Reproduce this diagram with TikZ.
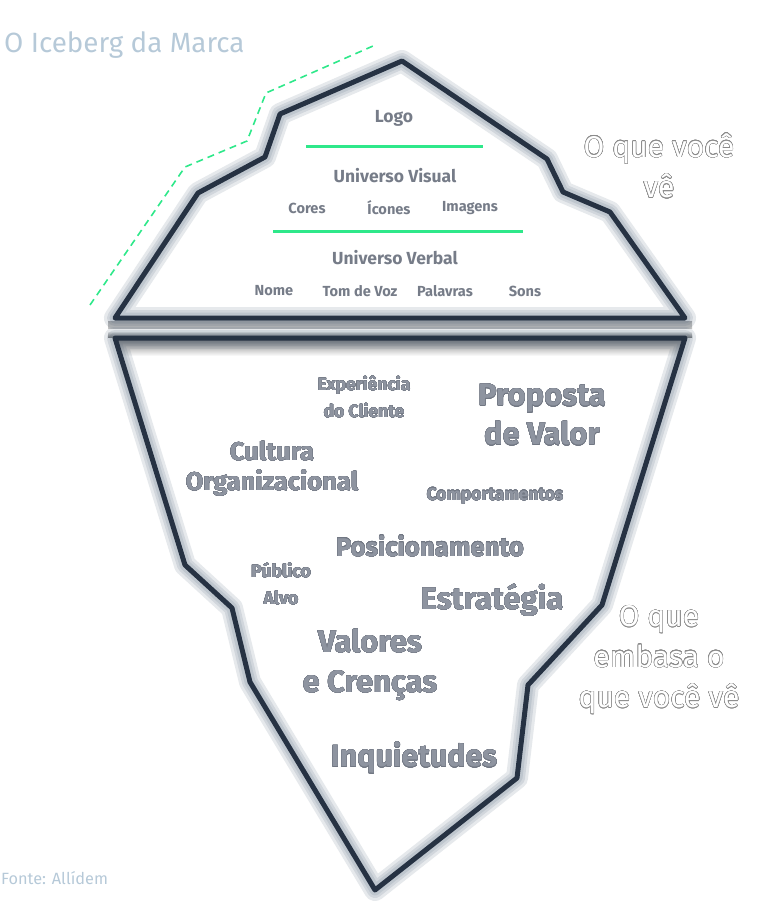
\documentclass[tikz,border=0pt]{standalone}
\usepackage{fontspec}
\setmainfont{Fira Sans}
\usepackage{contour}
\usepackage{tikz}

\definecolor{bergline}{HTML}{263243}
\definecolor{bergglow}{HTML}{50647A}
\definecolor{seagreen}{HTML}{2EE88A}
\definecolor{labelgray}{HTML}{767C88}
\definecolor{deepgray}{HTML}{8E94A0}
\definecolor{rimgray}{HTML}{717783}
\definecolor{hollowgray}{HTML}{8A8A8A}
\definecolor{titleblue}{HTML}{B6C9D8}

\contournumber{24}
\newcommand{\rim}[1]{{\contourlength{0.22pt}\contour{rimgray}{#1}}}
\newcommand{\hollow}[1]{{\contourlength{0.45pt}\contour{hollowgray}{#1}}}

\begin{document}
\begin{tikzpicture}[x=1pt,y=-1pt,
  lbl/.style={text=labelgray,font=\bfseries\fontsize{14.6}{17}\selectfont,inner sep=0pt},
  head/.style={text=labelgray,font=\bfseries\fontsize{17.5}{20}\selectfont,inner sep=0pt},
  deep/.style 2 args={text=deepgray,align=center,inner sep=0pt,font=\bfseries\fontsize{#1}{#2}\selectfont},
  side/.style={text=white,align=center,inner sep=0pt,font=\fontsize{30}{40.5}\selectfont},
  glow/.style={draw=bergglow,line width=#1,opacity=0.14,line join=round},
  berg/.style={draw=bergline,line width=5pt,line join=round}]
  \useasboundingbox (0,0) rectangle (780,920);

  \coordinate (T1) at (115,318);
  \coordinate (T2) at (198,193);
  \coordinate (T3) at (265,157);
  \coordinate (T4) at (280,114);
  \coordinate (T5) at (402,61);
  \coordinate (T6) at (547,159);
  \coordinate (T7) at (563,192);
  \coordinate (T8) at (610,212);
  \coordinate (T9) at (685,318);
  \coordinate (B1) at (115,338);
  \coordinate (B2) at (685,338);
  \coordinate (B3) at (602,605);
  \coordinate (B4) at (528,685);
  \coordinate (B5) at (517,778);
  \coordinate (B6) at (375,890);
  \coordinate (B7) at (250,682);
  \coordinate (B8) at (232,608);
  \coordinate (B9) at (185,565);

  % water line
  \shade[top color=black!30,bottom color=black!24] (108,321) rectangle (692,328);
  \shade[top color=white,bottom color=black!50] (108,331) rectangle (692,337);
  \begin{scope}
    \clip (B1)--(B2)--(B3)--(B4)--(B5)--(B6)--(B7)--(B8)--(B9)--cycle;
    \shade[top color=black!55,bottom color=white] (108,338) rectangle (692,356);
  \end{scope}

  % glow, then outline
  \foreach \w in {22pt,16pt,11pt} {
    \draw[glow=\w] (T1)--(T2)--(T3)--(T4)--(T5)--(T6)--(T7)--(T8)--(T9)--cycle;
    \draw[glow=\w] (B1)--(B2)--(B3)--(B4)--(B5)--(B6)--(B7)--(B8)--(B9)--cycle;
  }
  \draw[berg] (T1)--(T2)--(T3)--(T4)--(T5)--(T6)--(T7)--(T8)--(T9)--cycle;
  \draw[berg] (B1)--(B2)--(B3)--(B4)--(B5)--(B6)--(B7)--(B8)--(B9)--cycle;

  % dashed contour
  \coordinate (D1) at (90,305);
  \coordinate (D2) at (185,167);
  \coordinate (D3) at (247,141);
  \coordinate (D4) at (266,93);
  \coordinate (D5) at (373,46);
  \draw[seagreen,line width=1.6pt,dash pattern=on 7pt off 5pt] (D1)--(D2)--(D3)--(D4)--(D5);

  % visible part
  \node[head] (logo) at (394,118) {Logo};
  \coordinate (G1) at (306,147);
  \coordinate (G2) at (483,147);
  \draw[seagreen,line width=3pt] (G1) -- (G2);
  \node[head] (visual) at (395,176) {Universo Visual};
  \node[lbl] (cores) at (307,208) {Cores};
  \node[lbl] (icones) at (389,208) {Ícones};
  \node[lbl] (imagens) at (470,208) {Imagens};
  \coordinate (G3) at (273,231);
  \coordinate (G4) at (523,231);
  \draw[seagreen,line width=3pt] (G3) -- (G4);
  \node[head] (verbal) at (395,258) {Universo Verbal};
  \node[lbl] (nome) at (274,291) {Nome};
  \node[lbl] (tom) at (360,291) {Tom de Voz};
  \node[lbl] (palavras) at (445,291) {Palavras};
  \node[lbl] (sons) at (525,291) {Sons};

  % hidden part
  \node[deep={17.5}{27}] (experiencia) at (364,397) {\rim{Experiência}\\\rim{do Cliente}};
  \node[deep={31}{39}] (proposta) at (542,415) {\rim{Proposta}\\\rim{de Valor}};
  \node[deep={25.5}{30}] (cultura) at (272,469) {\rim{Cultura}\\\rim{Organizacional}};
  \node[deep={17.3}{20}] (comport) at (495,496) {\rim{Comportamentos}};
  \node[deep={25.7}{30}] (posic) at (430,546) {\rim{Posicionamento}};
  \node[deep={17.8}{27}] (publico) at (281,584) {\rim{Público}\\\rim{Alvo}};
  \node[deep={31}{34}] (estrat) at (492,600) {\rim{Estratégia}};
  \node[deep={31}{40}] (valores) at (370,665) {\rim{Valores}\\\rim{e Crenças}};
  \node[deep={30.4}{34}] (inquiet) at (414,758) {\rim{Inquietudes}};

  % side notes
  \node[side] (vista) at (659,166) {\hollow{O que você}\\\hollow{vê}};
  \node[side] (base) at (659,660) {\hollow{O que}\\\hollow{embasa o}\\\hollow{que você vê}};

  \node[anchor=west,text=titleblue,font=\fontsize{27.8}{32}\selectfont,inner sep=0pt] (titulo) at (4,45) {O Iceberg da Marca};
  \node[anchor=west,text=titleblue,font=\fontsize{16.3}{19}\selectfont,inner sep=0pt] (fonte) at (1,878) {Fonte: Allídem};
\end{tikzpicture}
\end{document}
